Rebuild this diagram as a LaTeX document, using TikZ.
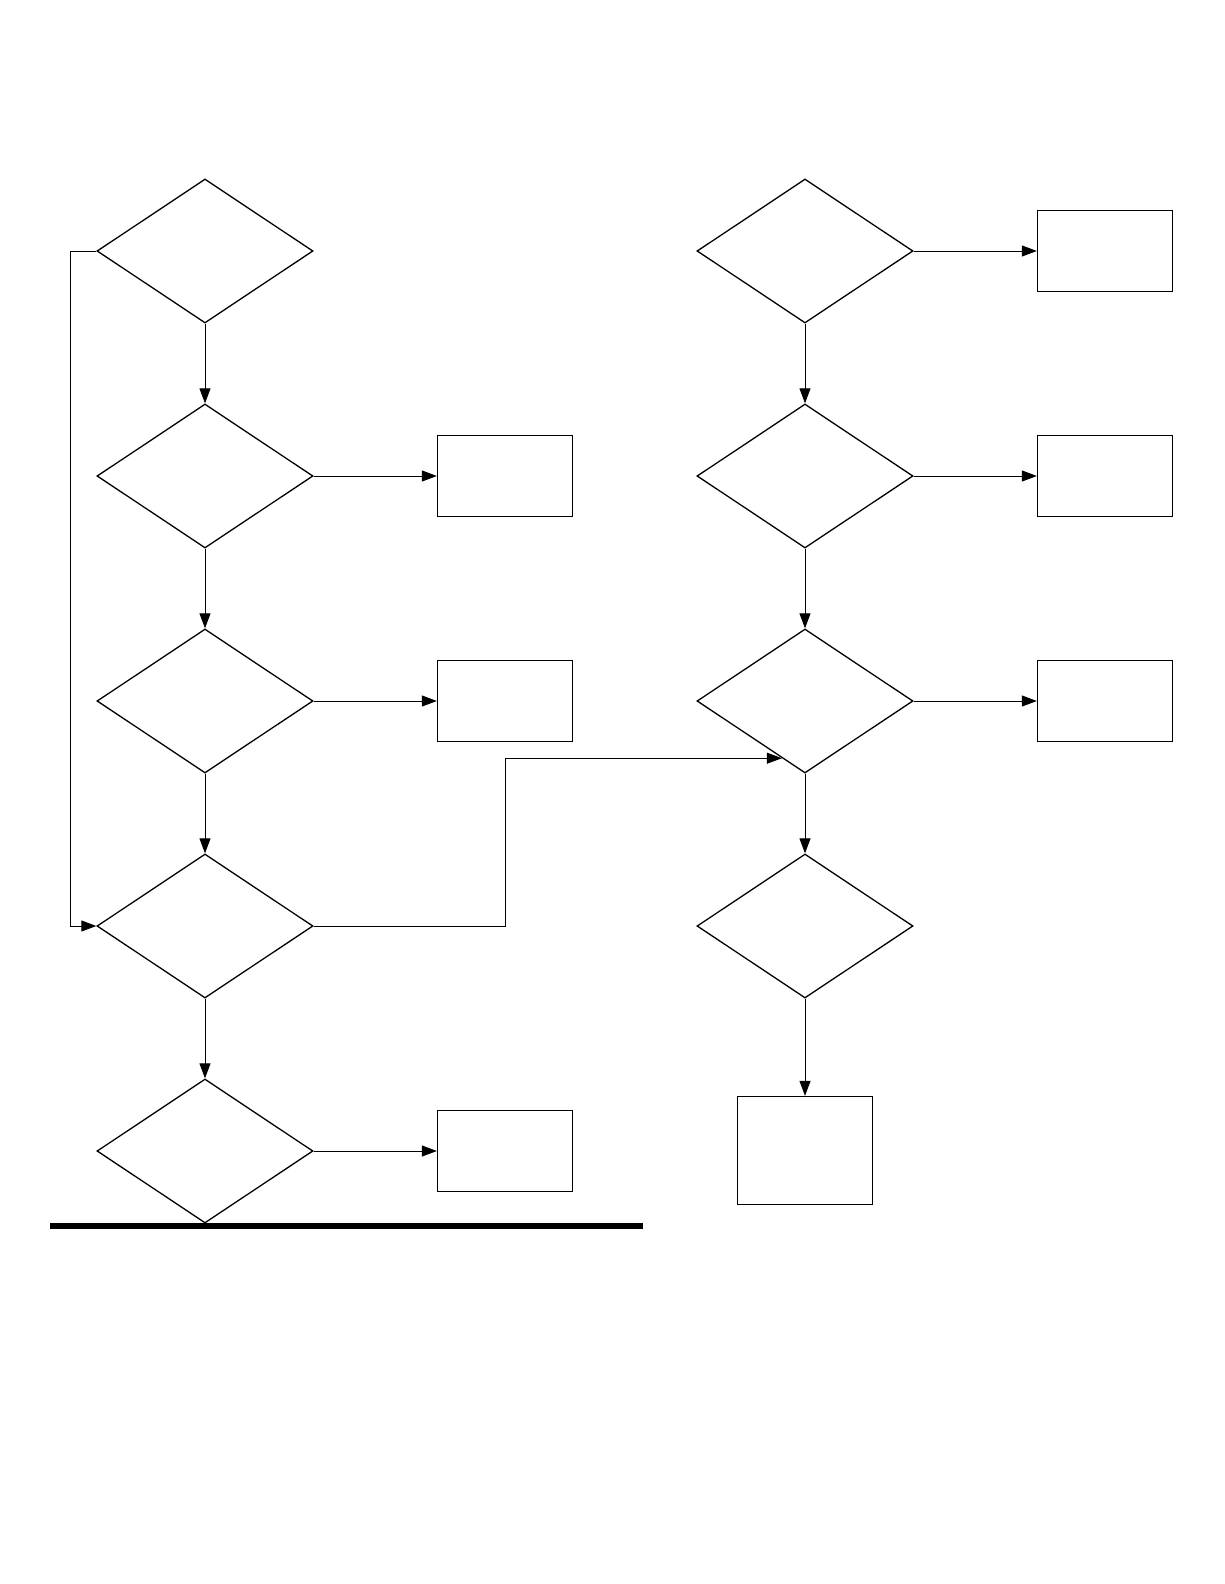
\documentclass[tikz,border=0pt]{standalone}
\usetikzlibrary{shapes.geometric,arrows.meta}
\begin{document}
\begin{tikzpicture}[x=1pt,y=-1pt,
  every path/.style={line width=1.3pt},
  dia/.style={draw,diamond,minimum width=216pt,minimum height=144pt,inner sep=0pt,line width=1.3pt},
  box/.style={draw,rectangle,minimum width=135pt,minimum height=81pt,inner sep=0pt,line width=1.3pt},
  tallbox/.style={box,minimum height=108pt},
  arr/.style={-{Triangle[length=15pt,width=11pt]},line width=1pt}]
\useasboundingbox (0,0) rectangle (1224,1584);
% left column
\node[dia] (L1) at (205,251) {};
\node[dia] (L2) at (205,476) {};
\node[dia] (L3) at (205,701) {};
\node[dia] (L4) at (205,926) {};
\node[dia] (L5) at (205,1151) {};
\node[box] (LB2) at (505,476) {};
\node[box] (LB3) at (505,701) {};
\node[box] (LB5) at (505,1151) {};
% right column
\node[dia] (R1) at (805,251) {};
\node[dia] (R2) at (805,476) {};
\node[dia] (R3) at (805,701) {};
\node[dia] (R4) at (805,926) {};
\node[box] (RB1) at (1105,251) {};
\node[box] (RB2) at (1105,476) {};
\node[box] (RB3) at (1105,701) {};
\node[tallbox] (RB5) at (805,1150.5) {};
% base bar
\coordinate (barL) at (50,1226);
\coordinate (barR) at (643,1226);
\draw[line width=6.5pt] (barL) -- (barR);
% vertical arrows
\draw[arr] (L1.south) -- (L2.north);
\draw[arr] (L2.south) -- (L3.north);
\draw[arr] (L3.south) -- (L4.north);
\draw[arr] (L4.south) -- (L5.north);
\draw[arr] (R1.south) -- (R2.north);
\draw[arr] (R2.south) -- (R3.north);
\draw[arr] (R3.south) -- (R4.north);
\draw[arr] (R4.south) -- (RB5.north);
% horizontal arrows
\draw[arr] (L2.east) -- (LB2.west);
\draw[arr] (L3.east) -- (LB3.west);
\draw[arr] (L5.east) -- (LB5.west);
\draw[arr] (R1.east) -- (RB1.west);
\draw[arr] (R2.east) -- (RB2.west);
\draw[arr] (R3.east) -- (RB3.west);
% loop on left
\draw[arr] (L1.west) -- (70,251) |- (L4.west);
% cross connector
\draw[arr] (L4.east) -- (505,926) |- (R3.248);
\end{tikzpicture}
\end{document}
